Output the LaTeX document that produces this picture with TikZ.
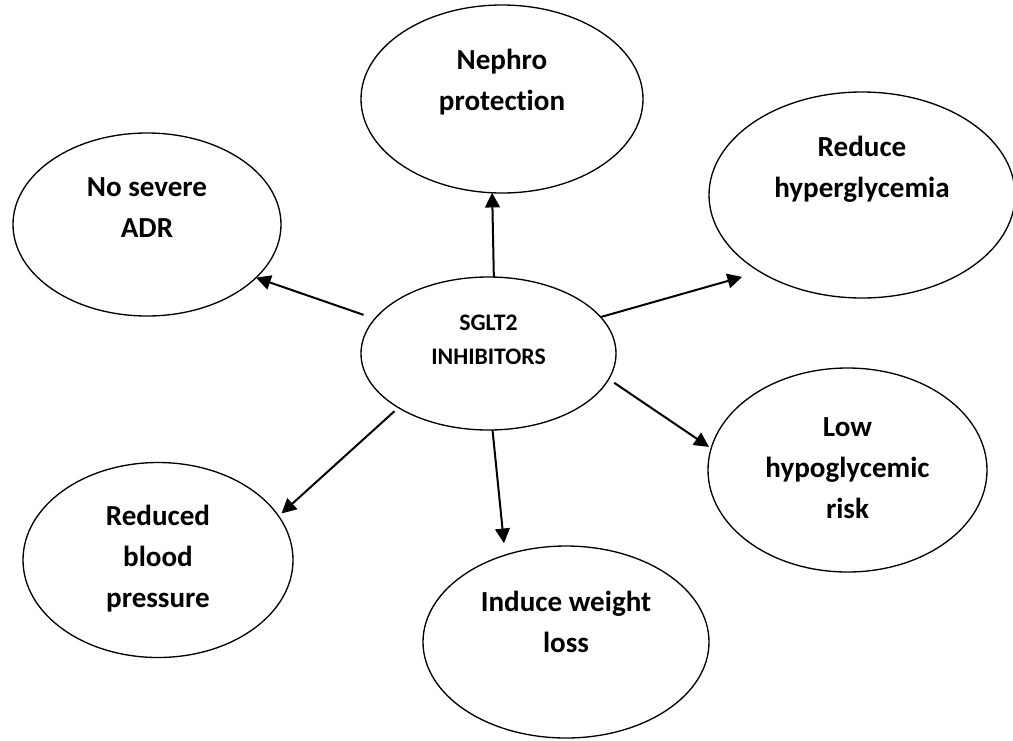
\documentclass[tikz,border=0pt]{standalone}
\usepackage{fontspec}
\setmainfont{Carlito}[Ligatures=NoCommon]
\usetikzlibrary{arrows.meta,shapes.geometric}
\begin{document}
\begin{tikzpicture}[x=0.75pt,y=-0.75pt,
  bub/.style={draw, ellipse, line width=1pt, inner sep=0pt, outer sep=0pt},
  lbl/.style={font=\bfseries\fontsize{21.8}{30.75}\selectfont, align=center, inner sep=0pt},
  lblsmall/.style={font=\bfseries\fontsize{17.8}{25.5}\selectfont, align=center, inner sep=0pt},
  arr/.style={line width=1.5pt, -{Triangle[length=11pt,width=11pt]}}]
\useasboundingbox (0,0) rectangle (1013,740);
\begin{scope}
\clip (0,0) rectangle (1013,740);
% centre node
\node[bub, minimum width=191.25pt, minimum height=114.75pt,
  label={[lblsmall, yshift=10pt]center:SGLT2\\INHIBITORS}] (sglt) at (488.5,353.5) {};
% outer nodes
\node[bub, minimum width=211.5pt, minimum height=141pt,
  label={[lbl, yshift=12.75pt]center:Nephro\\protection}] (neph) at (502,99) {};
\node[bub, minimum width=229.5pt, minimum height=154.5pt,
  label={[lbl, yshift=19.5pt]center:Reduce\\hyperglycemia}] (redu) at (862,195) {};
\node[bub, minimum width=201pt, minimum height=137.25pt,
  label={[lbl, yshift=12.4pt]center:No severe\\ADR}] (adr) at (147,224.5) {};
\node[bub, minimum width=209.25pt, minimum height=153pt,
  label={[lbl, yshift=1.5pt]center:Low\\hypoglycemic\\risk}] (low) at (847.5,470) {};
\node[bub, minimum width=202.5pt, minimum height=146.25pt,
  label={[lbl, yshift=1pt]center:Reduced\\blood\\pressure}] (rbp) at (158,560) {};
\node[bub, minimum width=214.5pt, minimum height=144pt,
  label={[lbl, yshift=15pt]center:Induce weight\\loss}] (ind) at (566,642) {};
\end{scope}
% connectors
\draw[arr] (sglt.86.6) -- (neph.264.6);
\draw[arr, shorten >=14pt] (sglt.18.6) -- (redu.217.6);
\draw[arr, shorten <=5pt, shorten >=2pt] (sglt.348) -- (low.171.3);
\draw[arr, shorten >=9pt] (sglt.273.4) -- (ind.125.6);
\draw[arr, shorten <=4pt, shorten >=3pt] (sglt.211.4) -- (rbp.20.3);
\draw[arr, shorten <=9pt] (sglt.163.9) -- (adr.334.7);
\end{tikzpicture}
\end{document}
